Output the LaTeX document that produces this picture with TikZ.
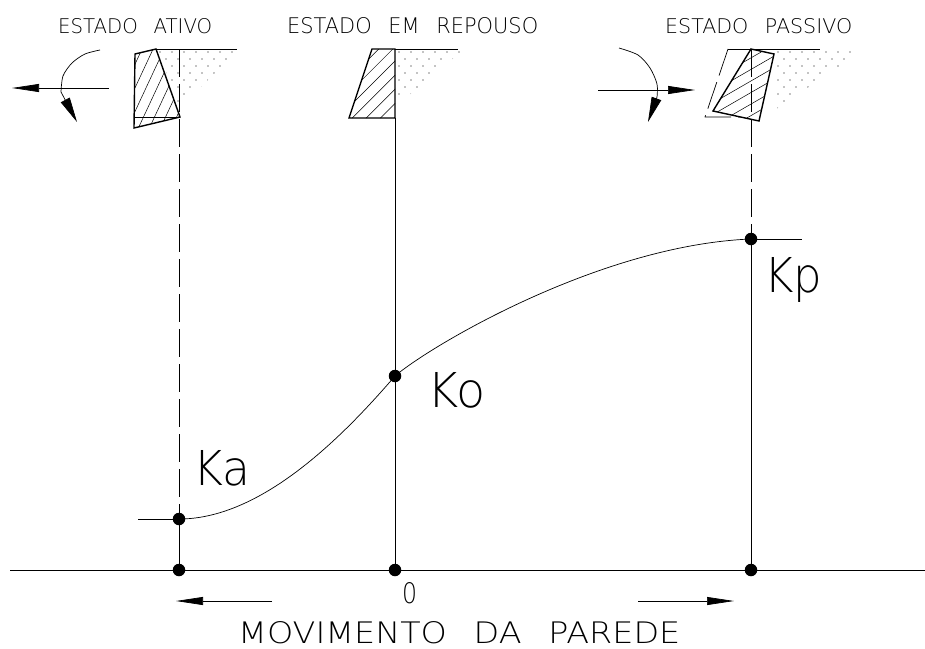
\documentclass[tikz,border=0pt]{standalone}
\usepackage{fontspec}
\usepackage{graphicx}
\IfFontExistsTF{DejaVu Sans ExtraLight}{\newfontfamily\cadfont{DejaVu Sans ExtraLight}}{%
  \IfFontExistsTF{DejaVuSans-ExtraLight.ttf}{\newfontfamily\cadfont{DejaVuSans-ExtraLight.ttf}}{%
    \newfontfamily\cadfont{DejaVu Sans}}}
\usetikzlibrary{arrows.meta}
\newcommand\cadlabel[3]{\resizebox{#1pt}{#2pt}{\cadfont #3}}
\newcommand\wsp{\hspace{0.8em}}
\newcommand\soildots[4]{%
  \foreach \j in {0,...,#4}{\foreach \i in {0,...,#3}{\fill ({#1+\i*12+mod(\j,2)*6},{#2+\j*7}) circle (0.7);}}}
\newcommand\hatchlines[4]{%
  \begin{scope}[shift={(#1,#2)},rotate=#3]
    \foreach \k in {-9,...,9}{\draw[hatch] (-90,{\k*#4}) -- (90,{\k*#4});}
  \end{scope}}
\begin{document}
\begin{tikzpicture}[x=1pt,y=-1pt,
  thinline/.style={line width=0.7pt},
  wallline/.style={line width=1.4pt, line join=miter},
  hatch/.style={line width=0.5pt},
  dashline/.style={line width=0.7pt, dash pattern=on 28pt off 7pt},
  arr/.style={line width=0.7pt, -{Triangle[length=27pt,width=8pt]}},
  dot/.style={circle, fill=black, inner sep=0pt, minimum size=12.5pt},
  lbl/.style={anchor=base west, inner sep=0pt}]
\useasboundingbox (0,0) rectangle (925,648);

% ---------- key points ----------
\node[dot] (ka) at (179,519) {};
\node[dot] (ko) at (395,376) {};
\node[dot] (kp) at (751,239) {};
\node[dot] (z1) at (179,570) {};
\node[dot] (z0) at (395,570) {};
\node[dot] (z2) at (751,570) {};
\coordinate (axL) at (10,570);
\coordinate (axR) at (925,570);
\coordinate (kaL) at (138,519);
\coordinate (kpR) at (802,239);
\coordinate (actTop) at (179,49);
\coordinate (restBot) at (395,118);
\coordinate (pasTop) at (751,49);

% ---------- axis and verticals ----------
\draw[thinline] (axL) -- (axR);
\draw[thinline] (kaL) -- (ka.center);
\draw[thinline] (kp.center) -- (kpR);
\draw[dashline] (actTop) -- (ka.center);
\draw[thinline] (ka.center) -- (z1.center);
\draw[thinline] (restBot) -- (z0.center);
\draw[dashline] (pasTop) -- (kp.center);
\draw[thinline] (kp.center) -- (z2.center);

% ---------- curve ----------
\draw[thinline] (ka.center) .. controls (260,519) and (340,440) .. (ko.center)
  .. controls (430,346) and (600,245) .. (kp.center);

% ---------- active wall ----------
\begin{scope}
  \clip (158,51) -- (237,51) -- (180,108) -- cycle;
  \soildots{160}{52}{7}{8}
\end{scope}
\draw[thinline] (156,49) -- (237,49);
\draw[thinline] (134,117) -- (180,117);
\begin{scope}
  \clip (135,54) -- (156,49) -- (180,117) -- (134,128) -- cycle;
  \hatchlines{157}{88}{65}{10}
\end{scope}
\draw[wallline] (135,54) -- (156,49) -- (180,117) -- (134,128) -- cycle;

% ---------- rest wall ----------
\begin{scope}
  \clip (397,51) -- (462,51) -- (397,105) -- cycle;
  \soildots{399}{52}{6}{8}
\end{scope}
\draw[thinline] (395,49) -- (458,49);
\begin{scope}
  \clip (372,49) -- (395,49) -- (395,118) -- (349,118) -- cycle;
  \hatchlines{372}{84}{45}{10}
\end{scope}
\draw[wallline] (372,49) -- (395,49) -- (395,118) -- (349,118) -- cycle;

% ---------- passive wall ----------
\begin{scope}
  \clip (776,51) -- (862,51) -- (763,118) -- cycle;
  \soildots{778}{52}{8}{10}
\end{scope}
\draw[thinline] (728,49) -- (820,49);
\draw[dashline] (728,49) -- (705,117) -- (751,117);
\fill[white] (751,49) -- (774,54) -- (759,121) -- (713,111) -- cycle;
\begin{scope}
  \clip (751,49) -- (774,54) -- (759,121) -- (713,111) -- cycle;
  \hatchlines{744}{85}{30}{10}
\end{scope}
\draw[wallline] (751,49) -- (774,54) -- (759,121) -- (713,111) -- cycle;
\draw[dashline] (pasTop) -- (751,125);

% ---------- movement arrows at the top ----------
\coordinate (aa1) at (109,88);
\coordinate (aa2) at (12,88);
\draw[arr] (aa1) -- (aa2);
\draw[line width=0.7pt, -{Triangle[length=25pt,width=10pt]}]
  plot[smooth] coordinates {(100,50) (85,54) (72,63) (63,76) (61,92)} -- (77,122);
\coordinate (pa1) at (598,90);
\coordinate (pa2) at (695,90);
\draw[arr] (pa1) -- (pa2);
\draw[line width=0.7pt, -{Triangle[length=25pt,width=10pt]}]
  plot[smooth] coordinates {(619,48) (638,55) (650,68) (657,84) (657,97)} -- (648,122);

% ---------- bottom arrows ----------
\coordinate (la1) at (272,601);
\coordinate (la2) at (176,601);
\draw[arr] (la1) -- (la2);
\coordinate (ra1) at (638,601);
\coordinate (ra2) at (734,601);
\draw[arr] (ra1) -- (ra2);

% ---------- labels ----------
\node[lbl] (t1) at (58,33) {\cadlabel{154}{15}{ESTADO\wsp ATIVO}};
\node[lbl] (t2) at (287,33) {\cadlabel{251}{16}{ESTADO\wsp EM\wsp REPOUSO}};
\node[lbl] (t3) at (665,33) {\cadlabel{187}{15}{ESTADO\wsp PASSIVO}};
\node[lbl] (lka) at (193,485) {\cadlabel{57}{35}{Ka}};
\node[lbl] (lko) at (427,407) {\cadlabel{58}{35}{Ko}};
\node[lbl] (lkp) at (764,292) {\cadlabel{58}{35}{Kp}};
\node[lbl] (lz) at (402,603) {\cadlabel{15}{21}{0}};
\node[lbl] (lmov) at (238,643) {\cadlabel{442}{22}{MOVIMENTO\wsp DA\wsp PAREDE}};
\end{tikzpicture}
\end{document}
